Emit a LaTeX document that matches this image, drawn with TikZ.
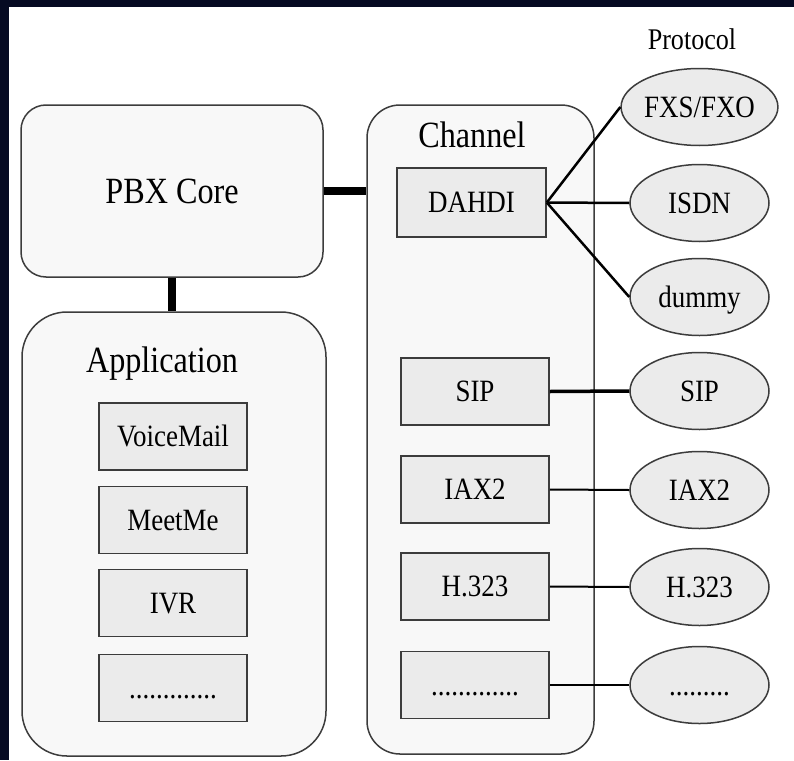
\documentclass[tikz,border=0pt]{standalone}
\usepackage{fontspec}
\usepackage{graphicx}
\setmainfont{Liberation Serif}
\usetikzlibrary{shapes.geometric}
\definecolor{navy}{HTML}{050A22}
\definecolor{bigfill}{HTML}{F8F8F8}
\definecolor{subfill}{HTML}{EBEBEB}
\definecolor{edge}{HTML}{3C3C3C}
\newcommand{\sq}[1]{\scalebox{0.87}[1]{#1}}
\begin{document}
\begin{tikzpicture}[x=1pt,y=-1pt,
  bigbox/.style={draw=edge, line width=1.5pt, fill=bigfill, inner sep=0pt},
  bigfont/.style={font=\fontsize{37}{40}\selectfont, text height=24.4pt, text depth=0pt, inner sep=0pt},
  smfont/.style={font=\fontsize{31}{34}\selectfont, text height=20.5pt, text depth=0pt, inner sep=0pt},
  subbox/.style={smfont, draw=edge, line width=1.6pt, fill=subfill, minimum width=148pt, minimum height=67pt},
  proto/.style={smfont, ellipse, draw=edge, line width=1.5pt, fill=subfill, minimum width=139pt, minimum height=77pt},
  thickcon/.style={line width=8pt, black},
  con/.style={line width=2pt, black}
]
\useasboundingbox (0,0) rectangle (794,760);
\fill[white] (0,0) rectangle (794,760);
\fill[navy] (0,0) rectangle (794,7);
\fill[navy] (0,0) rectangle (9,760);

% big containers
\node[bigbox, rounded corners=45pt, minimum width=304pt, minimum height=444pt] (app) at (174,534) {};
\node[bigbox, rounded corners=33pt, minimum width=227pt, minimum height=649pt] (chan) at (480.5,429.5) {};
\node[bigbox, bigfont, rounded corners=25pt, minimum width=302pt, minimum height=172pt] (core) at (172,191) {\sq{PBX Core}};

% titles
\node[bigfont] (apptitle) at (162,360) {\sq{Application}};
\node[bigfont] (chantitle) at (472,135) {\sq{Channel}};
\node[font=\fontsize{30}{33}\selectfont, text height=19.8pt, text depth=0pt, inner sep=0pt] (prototitle) at (692,39.5) {\sq{Protocol}};

% thick links
\draw[thickcon] (core.east) -- (core.east -| chan.west);
\draw[thickcon] (core.south) -- (core.south |- app.north);

% application entries
\node[subbox] (vm) at (173,436.5) {\sq{VoiceMail}};
\node[subbox] (meet) at (173,520) {\sq{MeetMe}};
\node[subbox] (ivr) at (173,603) {\sq{IVR}};
\node[subbox] (appmore) at (173,688) {\sq{.............}};

% channel entries
\node[subbox, minimum width=149pt, minimum height=69pt] (dahdi) at (471.5,202.5) {\sq{DAHDI}};
\node[subbox] (sipc) at (475,391.5) {\sq{SIP}};
\node[subbox] (iaxc) at (475,489.5) {\sq{IAX2}};
\node[subbox] (h323c) at (475,586.5) {\sq{H.323}};
\node[subbox] (chmore) at (475,685) {\sq{.............}};

% protocols
\node[proto] (fxs) at (699.5,107) {\sq{FXS/FXO}};
\node[proto] (isdn) at (699.5,203) {\sq{ISDN}};
\node[proto] (dummy) at (699.5,297) {\sq{dummy}};
\node[proto] (sipp) at (699.5,391) {\sq{SIP}};
\node[proto] (iaxp) at (699.5,490) {\sq{IAX2}};
\node[proto] (h323p) at (699.5,587) {\sq{H.323}};
\node[proto] (prmore) at (699.5,685) {\sq{.........}};

% connectors
\draw[con, line width=2.5pt] (dahdi.east) -- (fxs.west);
\draw[con, line width=2.5pt] (dahdi.east) -- (isdn.west);
\draw[con, line width=2.5pt] (dahdi.east) -- (dummy.west);
\draw[con, line width=3.5pt] (sipc.east) -- (sipp.west);
\draw[con] (iaxc.east) -- (iaxp.west);
\draw[con] (h323c.east) -- (h323p.west);
\draw[con] (chmore.east) -- (prmore.west);
\end{tikzpicture}
\end{document}
